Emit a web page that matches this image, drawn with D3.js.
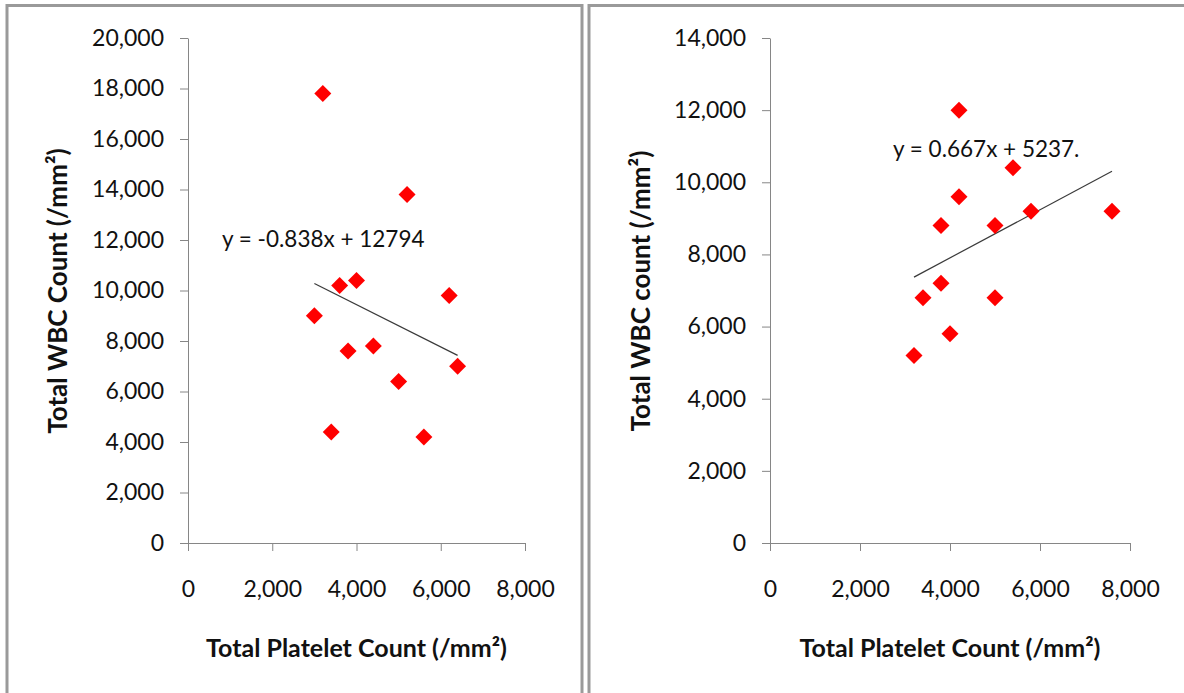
<!DOCTYPE html>
<html>
<head>
<meta charset="utf-8">
<script src="https://cdn.jsdelivr.net/npm/d3@7"></script>
<style>
    body { margin: 0; background: #fff; }
    svg { display: block; }
    text { font-family: Lato, "Open Sans", sans-serif; fill: #111; }
</style>
</head>
<body>
<svg id="chart" width="1184" height="693"></svg>
<script>
// left panel: platelet vs WBC
const leftPlatelet = [3200, 5200, 3600, 4000, 3000, 3800, 4400, 6200, 5000, 6400, 3400, 5600];
const leftWbc = [17800, 13800, 10200, 10400, 9000, 7600, 7800, 9800, 6400, 7000, 4400, 4200];
const leftFit = [-0.838, 12794];
const leftEquation = 'y = -0.838x + 12794';
const leftYTicks = [0, 2000, 4000, 6000, 8000, 10000, 12000, 14000, 16000, 18000, 20000];
const leftYTitle = 'Total WBC Count (/mm²)';

// right panel
const rightPlatelet = [3200, 3400, 3800, 3800, 4000, 4200, 4200, 5000, 5000, 5400, 5800, 7600];
const rightWbc = [5200, 6800, 7200, 8800, 5800, 12000, 9600, 8800, 6800, 10400, 9200, 9200];
const rightFit = [0.667, 5237];
const rightEquation = 'y = 0.667x + 5237.';
const rightYTicks = [0, 2000, 4000, 6000, 8000, 10000, 12000, 14000];
const rightYTitle = 'Total WBC count (/mm²)';

const xTicks = [0, 2000, 4000, 6000, 8000];
const xTitle = 'Total Platelet Count (/mm²)';

const svg = d3.select('#chart');
const axisColor = '#868686';
const fmt = d3.format(',');

function drawPanel(cfg) {
    const g = svg.append('g');

    // panel frame
    g.append('rect')
        .attr('x', cfg.frameX)
        .attr('y', 5.5)
        .attr('width', cfg.frameW)
        .attr('height', 720)
        .attr('fill', 'none')
        .attr('stroke', '#9a9a9a')
        .attr('stroke-width', 3);

    const x = d3.scaleLinear().domain([0, 8000]).range(cfg.xRange);
    const y = d3.scaleLinear().domain([0, d3.max(cfg.yTicks)]).range([543, 38]);

    const xAxis = g.append('g')
        .attr('transform', `translate(0, 543)`)
        .call(d3.axisBottom(x).tickValues(xTicks).tickSize(8).tickSizeOuter(0).tickFormat(fmt));
    xAxis.selectAll('text')
        .attr('y', 54)
        .attr('dy', 0)
        .style('font-size', '23px');

    const yAxis = g.append('g')
        .attr('transform', `translate(${cfg.xRange[0]}, 0)`)
        .call(d3.axisLeft(y).tickValues(cfg.yTicks).tickSize(8).tickPadding(16).tickSizeOuter(0).tickFormat(fmt));
    yAxis.selectAll('text')
        .style('font-size', '23px');

    g.selectAll('.domain, .tick line').attr('stroke', axisColor);
    g.selectAll('.tick text').attr('fill', '#111');

    // trendline over the range of the data
    const xs = d3.extent(cfg.xData);
    const line = d3.line()
        .x(d => x(d))
        .y(d => y(cfg.fit[0] * d + cfg.fit[1]));
    g.append('path')
        .datum(xs)
        .attr('fill', 'none')
        .attr('stroke', '#3a3a3a')
        .attr('stroke-width', 1.2)
        .attr('d', line);

    const points = cfg.xData.map((v, i) => ({x: v, y: cfg.yData[i]}));
    g.selectAll('.dot')
        .data(points)
        .enter().append('path')
        .attr('class', 'dot')
        .attr('transform', d => `translate(${x(d.x)}, ${y(d.y)}) rotate(45)`)
        .attr('d', d3.symbol().type(d3.symbolSquare).size(144))
        .attr('fill', '#ff0000');

    g.append('text')
        .attr('x', cfg.eqX)
        .attr('y', cfg.eqY)
        .style('font-size', '22.5px')
        .text(cfg.equation);

    g.append('text')
        .attr('x', (cfg.xRange[0] + cfg.xRange[1]) / 2)
        .attr('y', 657)
        .attr('text-anchor', 'middle')
        .style('font-size', '25px')
        .style('font-weight', 'bold')
        .text(xTitle);

    g.append('text')
        .attr('transform', `translate(${cfg.yTitleX}, 291) rotate(-90)`)
        .attr('text-anchor', 'middle')
        .style('font-size', '26px')
        .style('font-weight', 'bold')
        .text(cfg.yTitle);
}

drawPanel({
    frameX: 7, frameW: 575,
    xRange: [188, 525],
    yTicks: leftYTicks,
    xData: leftPlatelet, yData: leftWbc,
    fit: leftFit, equation: leftEquation, eqX: 222, eqY: 247,
    yTitle: leftYTitle, yTitleX: 67
});

drawPanel({
    frameX: 589, frameW: 700,
    xRange: [770, 1130],
    yTicks: rightYTicks,
    xData: rightPlatelet, yData: rightWbc,
    fit: rightFit, equation: rightEquation, eqX: 893, eqY: 157,
    yTitle: rightYTitle, yTitleX: 650
});
</script>
</body>
</html>
